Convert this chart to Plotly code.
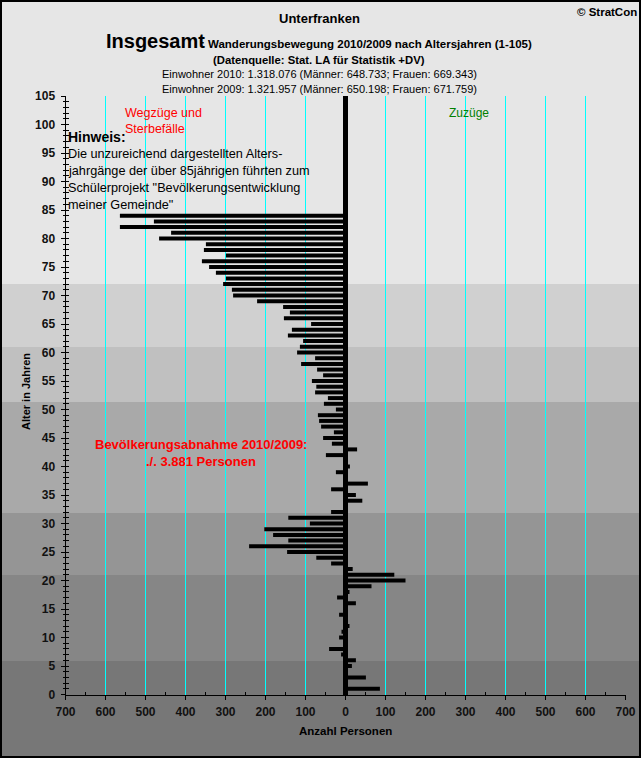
import plotly.graph_objects as go

W, H = 641, 758
# plot area in pixels
L, R, T, B = 65.5, 625.5, 96, 694.5

# net migration per age, 0 to 84 (nothing drawn above 84)
werte = [0, 86, 0, 51, 0, 16, 26, -11, -41, 0,
         -16, -10, 10, 0, -16, 0, 26, -21, 10, 65,
         150, 122, 18, -36, -73, -146, -241, -143, -181, -203,
         -89, -143, -36, 0, 42, 26, -36, 56, 0, -24,
         11, 0, -49, 29, -34, -56, -29, -61, -66, -69,
         -24, -54, -44, -76, -73, -84, -56, -71, -111, -76,
         -121, -114, -106, -144, -134, -86, -154, -139, -156, -221,
         -281, -284, -306, -299, -324, -341, -359, -299, -354, -349,
         -466, -436, -564, -479, -564]
alter = list(range(len(werte)))

ACHSE = dict(family="Liberation Sans", size=12, color="#111111", weight=700)


def px(x, y):
    return x / W, 1 - y / H


def text(x, y, s, size=12, color="black", bold=True, anchor="center", angle=0):
    xp, yp = px(x, y)
    fig.add_annotation(x=xp, y=yp, xref="paper", yref="paper", text=s, showarrow=False,
                       xanchor=anchor, yanchor="middle", textangle=angle,
                       font=dict(family="Liberation Sans", size=size, color=color,
                                 weight=700 if bold else 400))


fig = go.Figure()

fig.add_trace(go.Bar(x=werte, y=alter, orientation="h", width=0.7,
                     marker=dict(color="black", line=dict(width=0))))
# only there so the second y axis (tick marks right of the spine) gets drawn
fig.add_trace(go.Scatter(x=[None], y=[None], yaxis="y2", showlegend=False))

# grey background bands, full page width
baender = [(0, 284, "#e6e6e6"), (284, 347, "#d0d0d0"), (347, 402, "#c0c0c0"),
           (402, 513, "#a9a9a9"), (513, 575, "#959595"), (575, 661, "#868686"),
           (661, 758, "#777777")]
for y0, y1, farbe in baender:
    fig.add_shape(type="rect", xref="paper", yref="paper", x0=0, x1=1,
                  y0=px(0, y0)[1], y1=px(0, y1)[1],
                  fillcolor=farbe, line_width=0, layer="below")

# page border
fig.add_shape(type="rect", xref="paper", yref="paper", x0=px(1, 0)[0], x1=px(W - 1, 0)[0],
              y0=px(0, H - 1)[1], y1=px(0, 1)[1],
              line=dict(color="black", width=2), layer="above")

text(319, 19, "Unterfranken", 13)
text(639, 12, "© StratCon", 11.5, anchor="right")
text(104, 41, "Insgesamt", 20, anchor="left")
text(199, 44, ": Wanderungsbewegung 2010/2009 nach Altersjahren (1-105)", 11.5, anchor="left")
text(319, 60, "(Datenquelle: Stat. LA für Statistik +DV)", 11.3)
text(319, 74, "Einwohner 2010: 1.318.076 (Männer: 648.733; Frauen: 669.343)", 11, bold=False)
text(319, 89, "Einwohner 2009: 1.321.957 (Männer: 650.198; Frauen: 671.759)", 11, bold=False)

text(123, 113, "Wegzüge und", 12.5, "#ff0000", bold=False, anchor="left")
text(123, 129, "Sterbefälle", 12.5, "#ff0000", bold=False, anchor="left")
text(469, 113, "Zuzüge", 12, "#008000", bold=False)

text(66, 137, "Hinweis:", 14, anchor="left")
hinweis = ['Die unzureichend dargestellten Alters-', 'jahrgänge der über 85jährigen führten zum',
           'Schülerprojekt "Bevölkerungsentwicklung', 'meiner Gemeinde"']
for i, zeile in enumerate(hinweis):
    text(66, 154 + i * 17, zeile, 12.7, bold=False, anchor="left")

text(201, 444, "Bevölkerungsabnahme 2010/2009:", 13, "#ff0000")
text(201, 461, "./. 3.881 Personen", 13, "#ff0000")

text(345, 731, "Anzahl Personen", 11.5)
text(26, 392, "Alter in Jahren", 11, angle=-90)

xticks = list(range(-700, 701, 100))
ydom = [1 - B / H, 1 - T / H]
fig.update_layout(
    width=W, height=H, autosize=False,
    margin=dict(l=0, r=0, t=0, b=0, pad=0, autoexpand=False),
    paper_bgcolor="#e6e6e6", plot_bgcolor="rgba(0,0,0,0)",
    showlegend=False,
    xaxis=dict(domain=[L / W, R / W], range=[-700, 700], tickmode="array", tickvals=xticks,
               ticktext=[str(abs(v)) for v in xticks],
               ticks="outside", ticklen=4, tickcolor="black", tickwidth=1,
               minor=dict(tickmode="array", tickvals=list(range(-650, 700, 100)),
                          ticks="inside", ticklen=3, tickcolor="black", showgrid=False),
               showgrid=True, gridcolor="#00ffff", gridwidth=1,
               zeroline=True, zerolinecolor="black", zerolinewidth=5,
               showline=True, linecolor="black", linewidth=1,
               tickfont=ACHSE, tickangle=0, ticklabelstandoff=2),
    yaxis=dict(domain=ydom, range=[0, 105], tickmode="linear", tick0=0, dtick=5,
               ticks="outside", ticklen=4, tickcolor="black", tickwidth=1,
               minor=dict(dtick=1, tick0=0, ticks="outside", ticklen=2, tickcolor="black", showgrid=False),
               showgrid=False, zeroline=False,
               showline=True, linecolor="black", linewidth=1,
               tickfont=ACHSE, ticklabelstandoff=3),
    yaxis2=dict(domain=ydom, range=[0, 105], overlaying="y", side="left", tickmode="linear", tick0=0, dtick=1,
                ticks="inside", ticklen=3, tickcolor="black", tickwidth=1,
                showticklabels=False, showgrid=False, zeroline=False),
)

fig.write_html("out.html", config=dict(displayModeBar=False),
               post_script="document.body.style.margin='0';document.body.style.overflow='hidden';")
